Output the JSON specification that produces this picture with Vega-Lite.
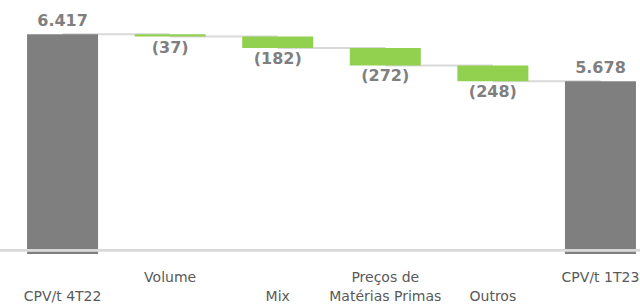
{
  "$schema": "https://vega.github.io/schema/vega-lite/v6.json",
  "width": 640,
  "height": 254,
  "padding": {"left": 0, "top": 0, "right": 0, "bottom": 50},
  "autosize": {"type": "none"},
  "background": "white",
  "config": {
    "view": {"stroke": null},
    "axisX": {
      "title": null, "domain": false, "ticks": false, "labelAngle": 0,
      "labelFont": "DejaVu Sans", "labelFontSize": 14, "labelColor": "#595959",
      "labelLineHeight": 19, "labelPadding": 16, "labelBaseline": "top"
    }
  },
  "data": {"values": [
    {"cat": "|CPV/t 4T22", "start": 2.96, "end": 6.417, "kind": "total", "txt": "6.417", "next": "Volume", "level": 6.417},
    {"cat": "Volume", "start": 6.417, "end": 6.380, "kind": "delta", "txt": "(37)", "next": "|Mix", "level": 6.380},
    {"cat": "|Mix", "start": 6.380, "end": 6.198, "kind": "delta", "txt": "(182)", "next": "Preços de|Matérias Primas", "level": 6.198},
    {"cat": "Preços de|Matérias Primas", "start": 6.198, "end": 5.926, "kind": "delta", "txt": "(272)", "next": "|Outros", "level": 5.926},
    {"cat": "|Outros", "start": 5.926, "end": 5.678, "kind": "delta", "txt": "(248)", "next": "CPV/t 1T23", "level": 5.678},
    {"cat": "CPV/t 1T23", "start": 2.96, "end": 5.678, "kind": "total", "txt": "5.678", "next": null, "level": null}
  ]},
  "layer": [
    {
      "mark": {"type": "rule", "color": "#d9d9d9", "strokeWidth": 2},
      "transform": [{"filter": "datum.next != null"}],
      "encoding": {
        "x": {
          "field": "cat", "type": "nominal", "sort": null,
          "scale": {"range": [8, 655], "paddingInner": 0.34, "paddingOuter": 0.177},
          "axis": {"title": null, "domain": false, "ticks": false, "labelAngle": 0, "labelExpr": "split(datum.label, '|')"}
        },
        "x2": {"field": "next"},
        "y": {"field": "level", "type": "quantitative", "scale": {"domain": [2.96, 6.954], "nice": false, "zero": false}, "axis": null}
      }
    },
    {
      "mark": {"type": "bar"},
      "encoding": {
        "x": {"field": "cat", "type": "nominal", "sort": null},
        "y": {"field": "start", "type": "quantitative", "scale": {"domain": [2.96, 6.954], "nice": false, "zero": false}, "axis": null},
        "y2": {"field": "end"},
        "color": {"field": "kind", "type": "nominal", "scale": {"domain": ["total", "delta"], "range": ["#7f7f7f", "#92d050"]}, "legend": null}
      }
    },
    {
      "mark": {"type": "rule", "color": "#d9d9d9", "strokeWidth": 2},
      "encoding": {"y": {"datum": 3.02, "type": "quantitative"}}
    },
    {
      "mark": {"type": "text", "baseline": "alphabetic", "dy": -8, "font": "DejaVu Sans", "fontWeight": "bold", "fontSize": 16, "color": "#7f7f7f"},
      "transform": [{"filter": "datum.kind == 'total'"}],
      "encoding": {
        "x": {"field": "cat", "type": "nominal", "sort": null},
        "y": {"field": "end", "type": "quantitative"},
        "text": {"field": "txt"}
      }
    },
    {
      "mark": {"type": "text", "baseline": "top", "dy": 3, "font": "DejaVu Sans", "fontWeight": "bold", "fontSize": 16, "color": "#7f7f7f"},
      "transform": [{"filter": "datum.kind == 'delta'"}],
      "encoding": {
        "x": {"field": "cat", "type": "nominal", "sort": null},
        "y": {"field": "end", "type": "quantitative"},
        "text": {"field": "txt"}
      }
    }
  ]
}
